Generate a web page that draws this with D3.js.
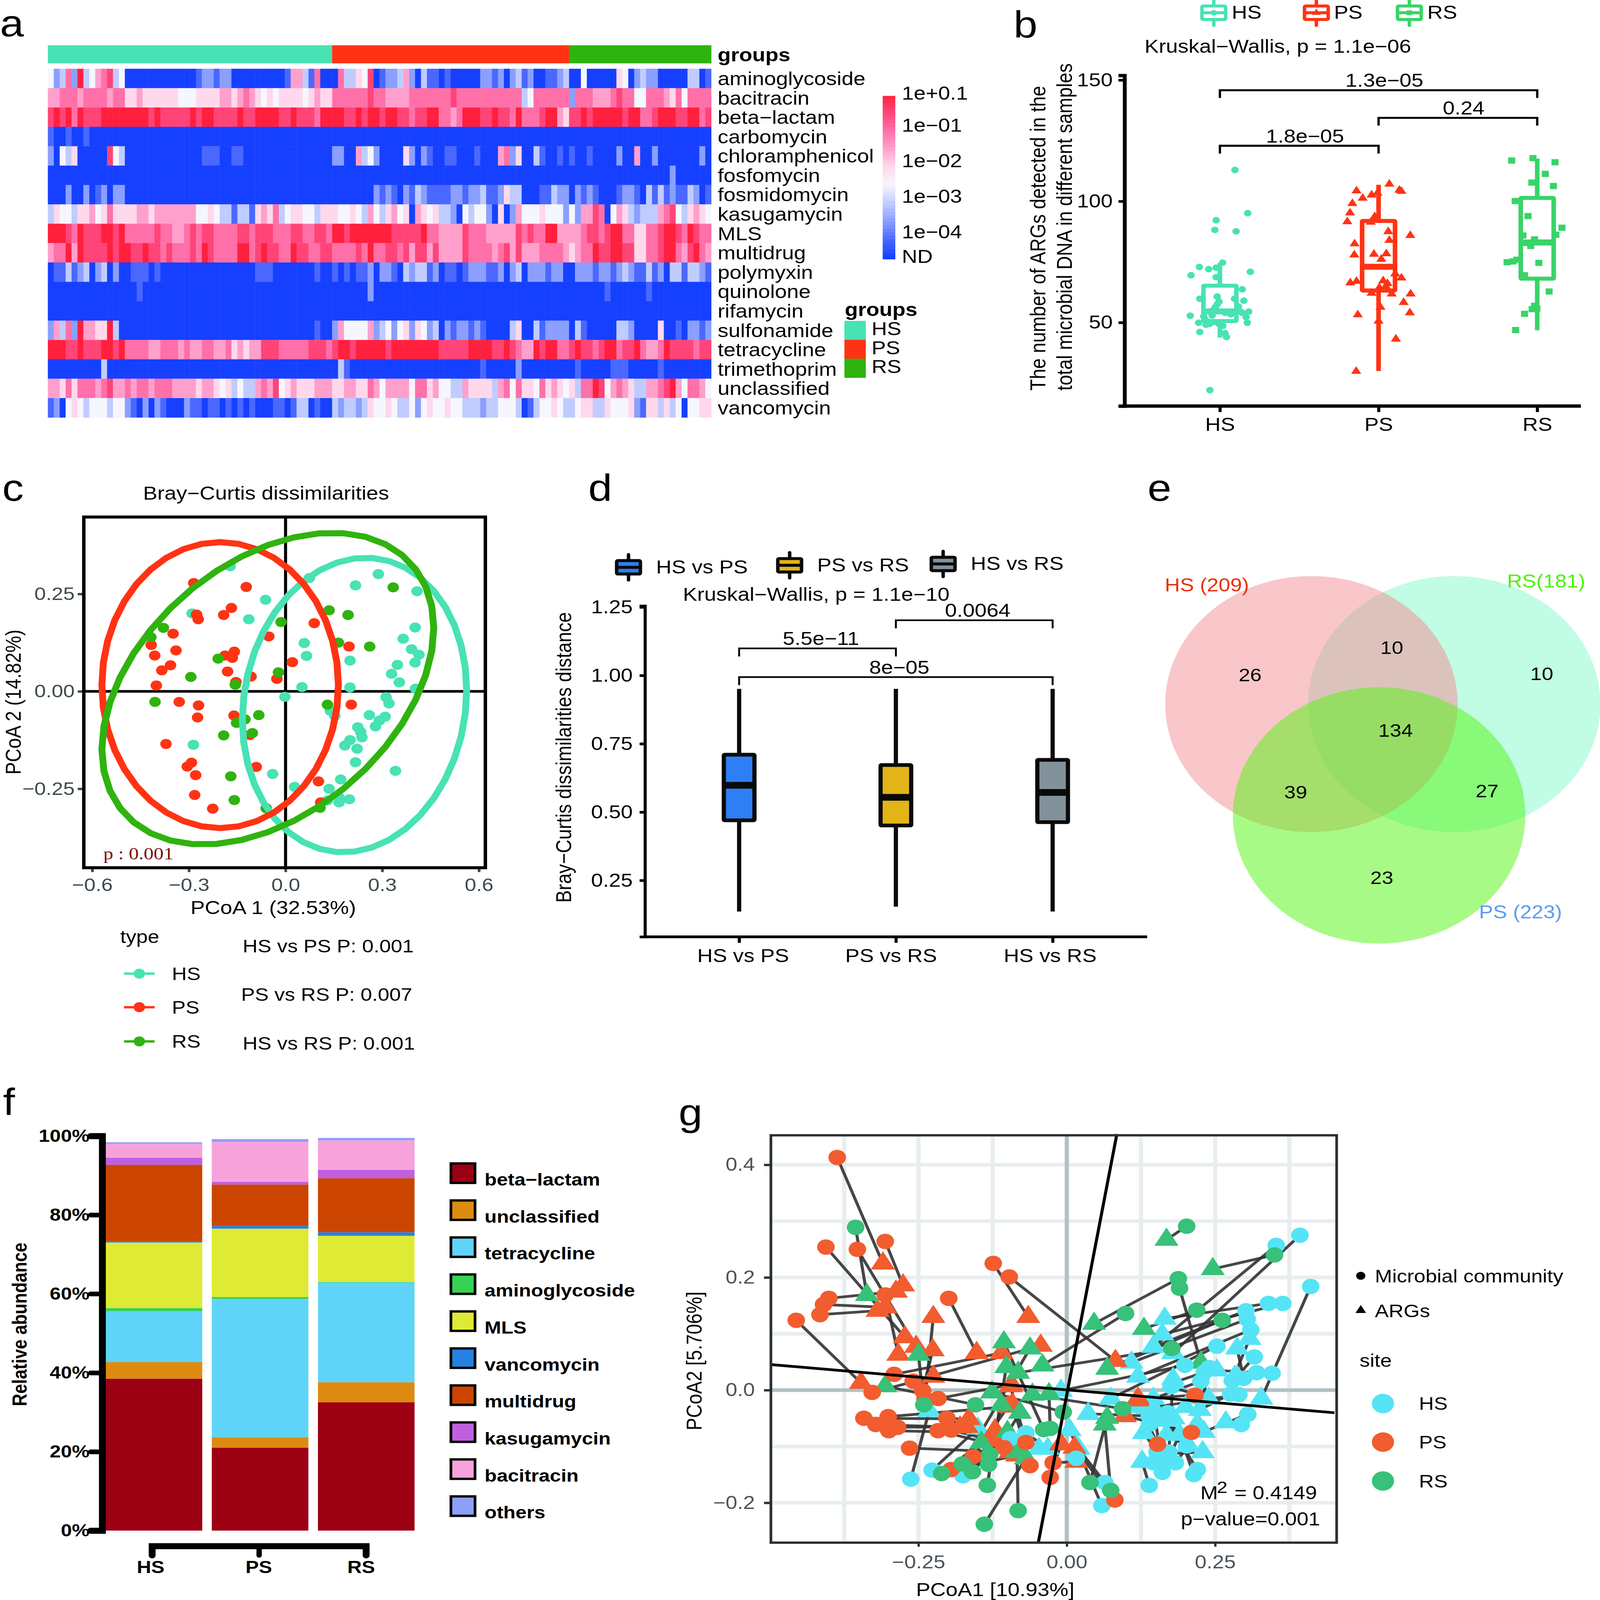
<!DOCTYPE html>
<html>
<head>
<meta charset="utf-8">
<script src="https://cdn.jsdelivr.net/npm/d3@7"></script>
<style>
html, body { margin: 0; padding: 0; background: #fff; overflow: hidden; width: 100%; height: 100%; }
svg { display: block; width: 100vw; height: 100vh; }
text { font-family: "Liberation Sans", Arial, sans-serif; fill: #000; }
</style>
</head>
<body>
<div id="chart"></div>
<script>
// a: heatmap, every digit is one sample (0 = ND ... 9 = strongest)
var argClasses = ["aminoglycoside", "bacitracin", "beta\u2212lactam", "carbomycin", "chloramphenicol", "fosfomycin", "fosmidomycin", "kasugamycin", "MLS", "multidrug", "polymyxin", "quinolone", "rifamycin", "sulfonamide", "tetracycline", "trimethoprim", "unclassified", "vancomycin"];
var heatHS = [
    "4237293467 8340000000 0000012212 2000000000 16631700",
    "6677767777 6775565555 5544455556 6567654545 55545655",
    "8989798889 9999999898 8888989988 8898899998 89888799",
    "1001001000 0000000000 0000000000 0000000000 00000000",
    "2043500000 8430000000 0000001110 0110000000 00000000",
    "0000000000 0000000000 0000000000 0000000000 00000000",
    "0002002012 0220000000 0000000000 0000000000 00000000",
    "3544355645 7555566566 6666644543 3133156573 45544355",
    "9998798889 9897777787 7667878877 7788788877 78877887",
    "6779698888 9899889887 8777879877 7799789887 79887788",
    "0113123023 0200111010 0000000000 0000011100 00000100",
    "0000000000 0000010000 0000000000 0000000000 00000000",
    "0000000000 0000000000 0000000000 0000000000 00000000",
    "2637296655 9300000000 0000000000 0000000000 00000100",
    "9998898889 9897777667 7767667766 7565668887 77778887",
    "0000000003 0000000000 0000000000 0000000000 00000000",
    "6657577767 8667677677 7666656654 5343367684 56555666",
    "1204543444 3442102021 0002110110 1010100011 01330100"
];
var heatPS = [
    "0733548012 2362031101 0000022120 2312001123",
    "7777778776 6667777777 8777777777 7734777777",
    "9988989989 9887889977 6799988988 7977789965",
    "0000000000 0000000000 0000000000 0000000000",
    "2200634200 0052021001 1000100067 2500310010",
    "0000000000 0000000000 0000000000 0000000000",
    "0000000212 1021321111 2212231125 3300011322",
    "5445436435 6450654533 2043442050 2644454442",
    "9989999999 8888897766 6687776666 6878779966",
    "7777879778 8786886866 6687777678 6866677776",
    "1010112022 1032331201 1012221120 2302221220",
    "0000002000 0000000000 0000000000 0000000000",
    "0000000000 0000000000 0000000000 0000000000",
    "2644446234 2452542302 1221210000 3500312222",
    "8998999998 9999999988 8889999889 8766989977",
    "0310000000 0000000000 0000010000 0200000000",
    "5566557646 6664775644 3365555367 4755475654",
    "3233235445 4334245445 4433323344 4301344543"
];
var heatRS = [
    "0040000054 0232200000 3301",
    "2777666787 7447776574 7777",
    "8898999998 9977899988 9978",
    "0000000000 0000000000 0000",
    "1001000020 0600200000 0020",
    "0000000000 0000000200 0000",
    "0212100012 2103131211 3201",
    "4266870465 3233367843 5654",
    "6678878997 7557789987 9877",
    "5677988998 8557789976 8976",
    "0222122123 2113120331 3321",
    "0000001000 0001000000 0000",
    "0000000000 0000000000 0000",
    "0310000033 2000050010 2212",
    "8988789978 8976679888 8788",
    "0100000111 0000010000 0000",
    "5377984676 5336678964 7764",
    "3455335444 5215535340 4455"
];
var heatTicks = ["1e+0.1", "1e\u221201", "1e\u221202", "1e\u221203", "1e\u221204", "ND"];
var groups = ["HS", "PS", "RS"];

// b: number of ARGs, [jitter in category widths, count]
var argsHS = [[.095,112.9],[.175,95.1],[-.024,92.2],[-.032,88.2],[.102,87.6],[.017,74.7],[-.129,72.9],[-.071,72],[-.024,72.6],[.192,70.9],[-.182,69.5],[-.024,68.7],[.141,63.7],[.092,59.8],[-.127,59.8],[-.017,60.7],[.151,59],[-.005,58.6],[-.017,57.5],[-.029,56.3],[.117,56.6],[-.041,55.2],[-.187,52.8],[-.102,52.5],[-.049,52.9],[.032,54],[.182,54.5],[.134,54.4],[.165,52.2],[-.134,49.9],[.173,49.9],[-.088,49.1],[-.054,50],[-.017,50],[.019,48.6],[-.127,46.1],[.032,45.6],[.041,44],[-.063,22.1],[-.09,51.1],[.068,53.4],[-.005,49.4],[-.066,49.4],[.141,54]];
var argsPS = [[.068,107.1],[-.139,104.3],[.131,104.6],[.144,104.1],[-.044,102.6],[-.007,103.4],[-.1,101.3],[-.165,99.1],[-.18,95.2],[-.024,93.7],[-.197,91.6],[-.049,91.4],[.061,87.5],[.2,85.9],[.068,83.9],[-.151,82.5],[-.153,77.9],[-.029,78.2],[.049,78.4],[.017,76.1],[.105,70.1],[.144,68.4],[-.139,67],[-.178,66.4],[.029,67.2],[.056,66.1],[.046,64.9],[.005,64.4],[-.044,62.1],[.083,61.8],[.202,61.8],[.158,58.3],[.012,56.3],[-.131,53.2],[.197,54],[0,50.6],[.109,43.2],[-.141,29.9]];
var argsRS = [[-.161,116.8],[-.027,117.8],[.112,116.1],[.051,111.3],[-.034,107.7],[.102,106.3],[-.139,100.1],[-.058,93.9],[.156,89.1],[.117,86.2],[-.09,85.9],[-.017,84.3],[-.073,82.8],[-.041,81.6],[-.19,74.9],[-.153,75.2],[-.129,75.9],[.01,74.6],[-.08,69.5],[.075,62.8],[-.017,56.9],[-.002,55.7],[-.032,55.5],[-.08,53.6],[-.136,46.9]];
// [whisker low, q1, median, q3, whisker high]
var argsBoxes = [[43.8,50.6,54.6,65.2,74.6],[30,63.2,73,91.9,106.8],[46.8,68.1,83,101.4,117.6]];
var argsBrackets = [["HS","RS",145.8,"1.3e\u221205"],["PS","RS",134.4,"0.24"],["HS","PS",122.9,"1.8e\u221205"]];

// c: PCoA samples [PCoA1, PCoA2]
var pcoaHS = [[-.172,.321],[.074,.291],[.288,.301],[.217,.272],[.408,.257],[-.062,.235],[-.29,.2],[-.114,.185],[.402,.164],[.365,.135],[.058,.124],[.391,.108],[.414,.094],[.065,.091],[.2,.079],[.402,.074],[.347,.068],[.329,.045],[.353,.023],[.051,.011],[.2,.01],[.403,.007],[-.002,-.014],[.312,-.015],[.321,-.031],[.139,-.05],[.153,-.063],[.26,-.061],[.309,-.065],[.291,-.075],[.279,-.09],[.224,-.092],[.233,-.104],[.237,-.118],[.2,-.125],[.184,-.139],[.222,-.147],[-.286,-.137],[.217,-.182],[.341,-.204],[-.04,-.212],[.171,-.226],[.028,-.245],[.135,-.25],[.13,-.28],[.166,-.272],[.166,-.285],[.198,-.277]];
var pcoaPS = [[-.285,.278],[-.122,.268],[-.168,.214],[-.192,.196],[-.276,.197],[-.271,.185],[.089,.175],[-.349,.148],[-.052,.141],[-.417,.119],[.197,.115],[-.34,.105],[-.159,.102],[-.406,.092],[-.188,.092],[-.165,.086],[.021,.075],[-.357,.067],[-.384,.054],[-.18,.051],[-.107,.038],[-.027,.032],[-.154,.024],[-.401,.015],[-.33,-.027],[-.27,-.036],[.204,-.034],[-.16,-.062],[-.273,-.067],[-.111,-.112],[-.371,-.135],[-.091,-.194],[-.292,-.183],[-.305,-.193],[-.279,-.215],[.102,-.231],[-.282,-.266],[-.226,-.301],[.109,-.285]];
var pcoaRS = [[.334,.267],[.135,.208],[.194,.196],[-.014,.178],[-.379,.163],[-.418,.139],[.164,.125],[.261,.115],[-.209,.084],[-.022,.049],[-.294,.037],[-.156,.017],[-.405,-.027],[.13,-.034],[-.083,-.061],[-.126,-.072],[-.152,-.081],[-.103,-.107],[-.192,-.113],[-.17,-.218],[-.159,-.279],[-.06,-.3],[.107,-.299]];
// [centre x, centre y, half width, half height, correlation]
var ellipseHS = [.214,-.035,.348,.378,.1];
var ellipsePS = [-.203,.016,.367,.367,0];
var ellipseRS = [-.055,.007,.515,.4,.39];
var pcoaTests = ["HS vs PS P: 0.001", "PS vs RS P: 0.007", "HS vs RS P: 0.001"];

// d: Bray-Curtis distance boxes
var compareNames = ["HS vs PS", "PS vs RS", "HS vs RS"];
var compareBoxes = [[.136,.47,.598,.71,.951],[.154,.451,.554,.672,.951],[.136,.463,.572,.691,.951]];
var compareBrackets = [["HS vs PS","PS vs RS",1.099,"5.5e\u221211"],["PS vs RS","HS vs RS",1.202,"0.0064"],["HS vs PS","HS vs RS",.994,"8e\u221205"]];

// e: venn counts
var vennCounts = ["26", "10", "10", "134", "39", "27", "23"];

// f: stacked relative abundance, same order as abundanceNames
var abundanceNames = ["beta\u2212lactam", "unclassified", "tetracycline", "aminoglycoside", "MLS", "vancomycin", "multidrug", "kasugamycin", "bacitracin", "others"];
var abundanceHS = [38.5,4.2,12.9,.8,16.6,.3,19.4,1.8,3.5,.4];
var abundancePS = [21,2.6,35.1,.5,17.3,.7,10.5,.7,10.1,.7];
var abundanceRS = [32.5,5.1,25.3,.1,11.7,.9,13.7,2.1,7.5,.6];

// g: procrustes pairs [circle x, circle y, triangle x, triangle y]
var procPS = [[-.387,.413,-.31,.225],[-.406,.254,-.273,.094],[-.353,.25,-.254,.077],[-.306,.264,-.276,.186],[-.401,.163,-.288,.175],[-.41,.152,-.306,.147],[-.416,.134,-.319,.141],[-.456,.124,-.347,.013],[-.306,.169,-.284,.063],[-.124,.225,-.065,.13],[-.097,.201,.082,.052],[-.199,.163,-.152,.066],[-.291,.028,-.11,.066],[-.259,.016,-.044,.079],[-.243,-.001,-.226,.071],[-.328,-.004,-.225,.024],[-.217,-.015,-.093,.01],[-.239,-.015,-.225,.13],[-.342,-.05,-.165,-.051],[-.301,-.047,-.095,-.029],[-.322,-.061,-.18,-.066],[-.3,-.072,-.121,-.076],[-.285,-.066,-.169,-.065],[-.217,-.072,-.084,-.107],[-.202,-.05,-.121,-.09],[-.195,-.071,-.099,-.096],[-.265,-.103,-.095,-.11],[-.158,-.118,-.099,-.029],[-.195,-.141,-.084,-.116],[-.062,-.134,-.091,-.026],[-.023,-.129,.016,-.127],[-.028,-.155,-.01,-.096],[.081,-.195,.013,-.102],[.216,-.009,.12,-.015],[.21,-.075,.098,-.046],[.153,-.096,.119,-.018],[-.069,-.093,-.095,.007],[-.106,-.102,-.121,-.071]];
var procRS = [[-.356,.289,-.337,.169],[.202,.291,.168,.267],[.188,.198,.046,.118],[.19,.181,.226,.049],[.099,.136,-.041,.044],[.219,.142,.13,.109],[.262,.124,.068,.038],[.35,.24,.246,.215],[.177,.074,-.082,.031],[-.241,-.026,-.25,.063],[-.154,-.026,-.306,.007],[-.006,-.039,-.126,-.004],[.094,-.033,-.058,-.008],[-.039,-.07,-.106,.085],[-.028,-.068,-.03,-.007],[-.13,-.114,-.11,-.026],[-.176,-.131,-.062,.074],[-.132,-.132,-.079,-.04],[-.211,-.148,-.144,-.093],[-.159,-.145,-.1,-.074],[-.134,-.169,-.102,.041],[-.082,-.214,-.084,-.11],[-.139,-.238,-.069,-.121],[.039,-.164,.068,-.049],[.074,-.178,.064,-.061]];
var procHS = [[.393,.275,.179,.066],[.353,.257,.146,.077],[.411,.184,.328,-.015],[.34,.154,.165,.127],[.364,.154,.161,.099],[.302,.141,.146,.077],[.304,.126,.109,.049],[.31,.107,.12,.024],[.253,.078,.074,-.015],[.316,.059,.287,.024],[.199,.044,-.01,-.001],[.32,.031,.253,.035],[.346,.03,.283,.024],[.232,.032,.179,.013],[.298,.021,.287,.074],[.279,.017,.308,.091],[.226,.016,.146,-.015],[.176,.006,.239,-.015],[.276,-.007,.224,-.035],[.29,-.008,.135,-.032],[.218,-.012,.168,-.054],[.305,-.043,.231,-.074],[.294,-.061,.268,-.057],[.139,-.046,.036,-.042],[.165,-.049,.19,-.079],[.202,-.099,.168,-.079],[.152,-.11,.13,-.076],[.168,-.113,.229,-.11],[.183,-.129,.205,-.099],[.146,-.129,.127,-.127],[.161,-.146,.19,-.079],[.22,-.141,.168,-.054],[.214,-.15,.19,-.079],[.139,-.169,.127,-.127],[.064,-.164,.016,-.099],[.059,-.205,.005,-.071],[.016,-.121,.02,-.104],[-.069,-.076,-.032,-.104],[-.095,-.086,-.047,-.104],[-.227,-.142,-.15,-.068],[-.263,-.158,-.232,-.037],[-.175,-.152,-.121,-.082],[.172,-.11,.179,.02],[.161,-.128,.145,-.03],[.14,-.06,.2,-.03],[.17,-.04,.18,-.05],[.155,-.05,.11,-.03],[.24,.04,.22,-.06]];
// the two rotation axes through the origin
var procAxes = [[[.0844,.4547],[-.048,-.2707]],[[-.497,.0452],[.451,-.0402]]];

var teal = "#48e2b4", red = "#ff3314", leaf = "#2fb30f";
var heatColor = d3.scaleLinear()
    .domain([0, 1, 2, 3, 4, 5, 6, 7, 8, 9])
    .range(["#1640ff", "#4a68ff", "#8a9fff", "#c0ccff", "#f6f6ff", "#ffd8ec", "#ffa0cc", "#ff70a8", "#ff4478", "#ff203e"]);

var svg = d3.select("#chart").append("svg")
    .attr("viewBox", "0 0 4180 4772")
    .attr("preserveAspectRatio", "none");

svg.append("rect").attr("width", 4180).attr("height", 4772).attr("fill", "#fff");

function txt(x, y, s, size, anchor, color, weight) {
    return svg.append("text")
        .attr("x", x)
        .attr("y", y)
        .attr("font-size", size || 56)
        .attr("text-anchor", anchor || "start")
        .attr("font-weight", weight || "normal")
        .style("fill", color || "#000")
        .text(s);
}

function vtxt(x, y, s, size, anchor, weight) {
    return txt(x, y, s, size, anchor, "#000", weight).attr("transform", "rotate(-90," + x + "," + y + ")");
}

function line(x1, y1, x2, y2, color, w) {
    return svg.append("line")
        .attr("x1", x1).attr("y1", y1)
        .attr("x2", x2).attr("y2", y2)
        .attr("stroke", color)
        .attr("stroke-width", w);
}

function panelLetters() {
    var letters = [["a", 0, 108], ["b", 2648, 112], ["c", 6, 1494], ["d", 1537, 1494], ["e", 2998, 1494], ["f", 8, 3325], ["g", 1773, 3356]];
    letters.forEach(function(l) {
        txt(l[1], l[2], l[0], 112);
    });
}

//draw one box with whiskers
function drawBox(cx, y, b, w, color, lw, medw, fill) {
    line(cx, y(b[0]), cx, y(b[1]), color, lw);
    line(cx, y(b[3]), cx, y(b[4]), color, lw);
    svg.append("rect")
        .attr("x", cx - w / 2)
        .attr("y", y(b[3]))
        .attr("width", w)
        .attr("height", y(b[1]) - y(b[3]))
        .attr("rx", 2)
        .attr("fill", fill || "none")
        .attr("stroke", color)
        .attr("stroke-width", lw);
    line(cx - w / 2, y(b[2]), cx + w / 2, y(b[2]), color, medw);
}

function drawBracket(x1, x2, yy, drop, label, labelX, lw) {
    svg.append("path")
        .attr("d", "M" + x1 + "," + (yy + drop) + "V" + yy + "H" + x2 + "V" + (yy + drop))
        .attr("fill", "none")
        .attr("stroke", "#000")
        .attr("stroke-width", lw);
    txt(labelX, yy - 10, label, 56, "middle");
}

function styleAxis(g, color, tickW, fontSize, labelColor) {
    g.selectAll("line").attr("stroke", color).attr("stroke-width", tickW);
    g.selectAll("text")
        .attr("font-size", fontSize)
        .style("fill", labelColor || "#000");
}

function drawHeatmap() {
    var hs = d3.scaleBand().domain(d3.range(112)).range([125, 1858]);
    var rowY = d3.scaleBand().domain(argClasses).range([205, 1245]);

    var bars = [[0, 48, teal], [48, 88, red], [88, 112, leaf]];
    bars.forEach(function(b) {
        svg.append("rect")
            .attr("x", hs(b[0]))
            .attr("y", 135)
            .attr("width", hs.step() * (b[1] - b[0]) + 0.5)
            .attr("height", 54)
            .attr("fill", b[2]);
    });

    argClasses.forEach(function(name, i) {
        var cells = (heatHS[i] + heatPS[i] + heatRS[i]).replace(/\s/g, "").split("");
        svg.selectAll(".none")
            .data(cells)
            .enter()
            .append("rect")
            .attr("x", function(d, j) { return hs(j); })
            .attr("y", rowY(name))
            .attr("width", hs.step() + 0.5)
            .attr("height", rowY.step() + 0.5)
            .attr("fill", function(d) { return heatColor(+d); });
        txt(1875, rowY(name) + rowY.step() / 2 + 20, name, 56);
    });
    txt(1875, 183, "groups", 56, "start", "#000", "bold");

    //colour key
    var keyY = d3.scaleLinear().domain([0, 9]).range([773, 286]);
    var steps = d3.range(0, 9, 9 / 48);
    svg.selectAll(".key")
        .data(steps)
        .enter()
        .append("rect")
        .attr("x", 2306)
        .attr("y", function(d) { return keyY(d + 9 / 48); })
        .attr("width", 33)
        .attr("height", (773 - 286) / 48 + 0.5)
        .attr("fill", function(d) { return heatColor(d); });
    var keySpots = [277, 373, 479, 585, 691, 764];
    heatTicks.forEach(function(t, i) {
        txt(2356, keySpots[i] + 20, t, 56);
    });

    txt(2207, 942, "groups", 56, "start", "#000", "bold");
    var groupColors = [teal, red, leaf];
    groups.forEach(function(g, i) {
        svg.append("rect")
            .attr("x", 2206)
            .attr("y", 957 + i * 56.5)
            .attr("width", 56)
            .attr("height", 57)
            .attr("fill", groupColors[i]);
        txt(2277, 1000 + i * 56.5, g, 56);
    });
}

//legend key of a boxplot
function boxKey(x, y, color, fill, mark) {
    line(x + 35, y - 14, x + 35, y + 62, color, 9).attr("stroke-linecap", "round");
    svg.append("rect")
        .attr("x", x + 4).attr("y", y + 4)
        .attr("width", 62).attr("height", 40)
        .attr("rx", 3)
        .attr("fill", fill)
        .attr("stroke", color)
        .attr("stroke-width", 9);
    line(x + 4, y + 24, x + 66, y + 24, color, 9);
    if (mark) {
        svg.append("path")
            .attr("d", d3.symbol().type(mark).size(200)())
            .attr("transform", "translate(" + (x + 35) + "," + (y + 24) + ")")
            .attr("fill", color);
    }
}

function drawArgCounts() {
    var colors = [teal, red, "#38d468"];
    var marks = [d3.symbolCircle, d3.symbolTriangle, d3.symbolSquare];
    var sizes = [300, 300, 340];
    var sets = [argsHS, argsPS, argsRS];

    var x = d3.scalePoint().domain(groups).range([3187, 4016]);
    var y = d3.scaleLinear().domain([15.56, 151.9]).range([1211, 225]);

    var yAxis = svg.append("g")
        .attr("transform", "translate(2938,0)")
        .call(d3.axisLeft(y).tickValues([50, 100, 150]).tickSizeOuter(0).tickSize(16).tickPadding(15));
    yAxis.select(".domain").attr("stroke", "#000").attr("stroke-width", 10);
    styleAxis(yAxis, "#000", 8, 56);
    var xAxis = svg.append("g")
        .attr("transform", "translate(0,1211)")
        .call(d3.axisBottom(x).tickSizeOuter(0).tickSize(18).tickPadding(16));
    xAxis.select(".domain").remove();
    styleAxis(xAxis, "#000", 8, 56);
    line(2933, 1211, 4130, 1211, "#000", 10);

    groups.forEach(function(g, i) {
        drawBox(x(g), y, argsBoxes[i], 86, colors[i], 12, 18);
        svg.selectAll(".none")
            .data(sets[i])
            .enter()
            .append("path")
            .attr("d", d3.symbol().type(marks[i]).size(sizes[i]))
            .attr("transform", function(d) {
                return "translate(" + (x(g) + d[0] * x.step()) + "," + y(d[1]) + ")";
            })
            .attr("fill", colors[i]);
    });

    argsBrackets.forEach(function(b) {
        var mid = (x(b[0]) + x(b[1])) / 2;
        drawBracket(x(b[0]), x(b[1]), y(b[2]), 23, b[3], mid + 15, 6);
    });

    var keyX = [3136, 3404, 3647], textX = [3218, 3485, 3729];
    groups.forEach(function(g, i) {
        boxKey(keyX[i], 14, colors[i], "#fff", marks[i]);
        txt(textX[i], 56, g, 56);
    });
    txt(2990, 157, "Kruskal\u2212Wallis, p = 1.1e\u221206", 56);
    vtxt(2731, 1165, "The number of ARGs detected in the", 56);
    vtxt(2800, 1165, "total microbial DNA in different samples", 56);
}

function drawPcoa() {
    var x = d3.scaleLinear().domain([-.626, .62]).range([219, 1268]);
    var y = d3.scaleLinear().domain([-.4509, .4509]).range([2586, 1538]);

    var xAxis = svg.append("g")
        .attr("transform", "translate(0,2588)")
        .call(d3.axisBottom(x).tickValues([-.6, -.3, 0, .3, .6]).tickFormat(d3.format(".1f")).tickSize(13).tickPadding(18));
    xAxis.select(".domain").remove();
    styleAxis(xAxis, "#3f4a50", 7, 54, "#3f4a50");
    var yAxis = svg.append("g")
        .attr("transform", "translate(219,0)")
        .call(d3.axisLeft(y).tickValues([-.25, 0, .25]).tickFormat(d3.format(".2f")).tickSize(16).tickPadding(8));
    yAxis.select(".domain").remove();
    styleAxis(yAxis, "#3f4a50", 7, 54, "#3f4a50");

    line(x(0), 1542, x(0), 2588, "#000", 8);
    line(219, y(0), 1268, y(0), "#000", 8);

    var sets = [pcoaHS, pcoaPS, pcoaRS];
    var colors = [teal, red, leaf];
    sets.forEach(function(s, i) {
        svg.selectAll(".none")
            .data(s)
            .enter()
            .append("circle")
            .attr("cx", function(d) { return x(d[0]); })
            .attr("cy", function(d) { return y(d[1]); })
            .attr("r", 15)
            .attr("fill", colors[i]);
    });

    [ellipseHS, ellipsePS, ellipseRS].forEach(function(e, i) {
        var phi = Math.acos(e[4]);
        var path = d3.line()
            .x(function(t) { return x(e[0] + e[2] * Math.cos(t)); })
            .y(function(t) { return y(e[1] + e[3] * Math.cos(t - phi)); })
            .curve(d3.curveLinearClosed);
        svg.append("path")
            .attr("d", path(d3.range(0, 2 * Math.PI, Math.PI / 20)))
            .attr("fill", "none")
            .attr("stroke", colors[i])
            .attr("stroke-width", 18);
    });

    svg.append("rect")
        .attr("x", 219).attr("y", 1542)
        .attr("width", 1049).attr("height", 1046)
        .attr("fill", "none")
        .attr("stroke", "#000")
        .attr("stroke-width", 9);

    txt(270, 2563, "p :  0.001", 52, "start", "#7a1010").style("font-family", "'Liberation Serif'");
    txt(695, 1490, "Bray\u2212Curtis dissimilarities", 56, "middle");
    txt(714, 2726, "PCoA 1 (32.53%)", 56, "middle");
    vtxt(54, 2094, "PCoA 2 (14.82%)", 56, "middle");

    txt(314, 2812, "type", 54);
    var keyY = [2904, 3004, 3106];
    groups.forEach(function(g, i) {
        line(324, keyY[i], 404, keyY[i], colors[i], 7);
        svg.append("circle").attr("cx", 364).attr("cy", keyY[i]).attr("r", 15).attr("fill", colors[i]);
        txt(449, keyY[i] + 19, g, 54);
    });
    var testX = [634, 630, 634], testY = [2840, 2985, 3130];
    pcoaTests.forEach(function(t, i) {
        txt(testX[i], testY[i], t, 54);
    });
}

function drawDistances() {
    var fills = ["#2e7ff5", "#e3b417", "#83919a"];
    var x = d3.scalePoint().domain(compareNames).range([1931, 2750]);
    var y = d3.scaleLinear().domain([.0436, 1.2546]).range([2794, 1807]);

    var yAxis = svg.append("g")
        .attr("transform", "translate(1685,0)")
        .call(d3.axisLeft(y).tickValues([.25, .5, .75, 1, 1.25]).tickFormat(d3.format(".2f")).tickSizeOuter(0).tickSize(14).tickPadding(18));
    yAxis.select(".domain").attr("stroke", "#000").attr("stroke-width", 8);
    styleAxis(yAxis, "#000", 8, 56);
    var xAxis = svg.append("g")
        .attr("transform", "translate(0,2794)")
        .call(d3.axisBottom(x).tickSizeOuter(0).tickSize(18).tickPadding(18));
    xAxis.select(".domain").remove();
    styleAxis(xAxis, "#000", 8, 56);
    var labelShift = [10, -13, -7];
    xAxis.selectAll("text").attr("dx", function(d, i) { return labelShift[i]; });
    line(1681, 2794, 2997, 2794, "#000", 8);

    compareNames.forEach(function(n, i) {
        drawBox(x(n), y, compareBoxes[i], 80, "#0a0a0a", 11, 20, fills[i]);
    });

    compareBrackets.forEach(function(b) {
        var mid = (x(b[0]) + x(b[1])) / 2;
        drawBracket(x(b[0]), x(b[1]), y(b[2]), 24, b[3], mid + 9, 5);
    });

    var keyX = [1607, 2028, 2429], keyY = [1668, 1662, 1658], textX = [1714, 2135, 2536];
    compareNames.forEach(function(n, i) {
        boxKey(keyX[i], keyY[i], "#0a0a0a", fills[i]);
        txt(textX[i], keyY[i] + 42, n, 56);
    });
    txt(1784, 1792, "Kruskal\u2212Wallis, p = 1.1e\u221210", 56);
    vtxt(1492, 2259, "Bray\u2212Curtis dissimilarities distance", 56, "middle");
}

function drawVenn() {
    var r = 382;
    svg.append("clipPath").attr("id", "vennClip")
        .append("circle").attr("cx", 3426).attr("cy", 2100).attr("r", r);
    svg.append("circle").attr("cx", 3426).attr("cy", 2100).attr("r", r).attr("fill", "#f9c6c9");
    svg.append("circle").attr("cx", 3799).attr("cy", 2100).attr("r", r).attr("fill", "#c1fce5");
    svg.append("circle").attr("cx", 3799).attr("cy", 2100).attr("r", r).attr("fill", "#dbc3bc").attr("clip-path", "url(#vennClip)");
    svg.append("circle").attr("cx", 3603).attr("cy", 2432).attr("r", r).attr("fill", "rgb(81,245,13)").attr("fill-opacity", .5);

    var spots = [[3266, 2013], [3636, 1931], [4028, 2009], [3646, 2178], [3385, 2362], [3885, 2359], [3610, 2618]];
    vennCounts.forEach(function(c, i) {
        txt(spots[i][0], spots[i][1] + 19, c, 54, "middle");
    });
    txt(3043, 1764, "HS (209)", 55, "start", "#e8310c");
    txt(3937, 1752, "RS(181)", 55, "start", "#4df20a");
    txt(3864, 2739, "PS (223)", 55, "start", "#5b9cf0");
}

function drawAbundance() {
    var colors = ["#9c0013", "#dd8b10", "#5fd4f8", "#36d255", "#dfea34", "#2781e0", "#cc4500", "#c060e0", "#f8a2dc", "#8ca0f8"];
    var y = d3.scaleLinear().domain([0, 100]).range([4565, 3388]);
    var x = d3.scaleBand().domain(groups).range([276, 1083]).paddingInner(.09);
    var sets = [abundanceHS, abundancePS, abundanceRS];

    groups.forEach(function(g, i) {
        var base = 0;
        sets[i].forEach(function(v, j) {
            svg.append("rect")
                .attr("x", x(g))
                .attr("y", y(base + v))
                .attr("width", x.bandwidth())
                .attr("height", y(base) - y(base + v))
                .attr("fill", colors[j]);
            base += v;
        });
    });

    var yAxis = svg.append("g")
        .attr("transform", "translate(267,0)")
        .call(d3.axisLeft(y).tickValues([0, 20, 40, 60, 80, 100]).tickFormat(function(d) { return d + "%"; }).tickSizeOuter(0).tickSize(30).tickPadding(3));
    yAxis.select(".domain").attr("stroke", "#000").attr("stroke-width", 18).attr("stroke-linecap", "round");
    styleAxis(yAxis, "#000", 14, 52);
    yAxis.selectAll("line").attr("stroke-linecap", "round");
    yAxis.selectAll("text").attr("font-weight", "bold");

    var xt = d3.scalePoint().domain(groups).range([397, 956]);
    var xAxis = svg.append("g")
        .attr("transform", "translate(0,4611)")
        .call(d3.axisBottom(xt).tickSizeOuter(0).tickSize(28).tickPadding(16));
    xAxis.select(".domain").attr("stroke", "#000").attr("stroke-width", 18).attr("stroke-linecap", "round");
    styleAxis(xAxis, "#000", 14, 52);
    xAxis.selectAll("line").attr("stroke-linecap", "round");
    var labelShift = [-4, -1, -13];
    xAxis.selectAll("text").attr("font-weight", "bold").attr("dx", function(d, i) { return labelShift[i]; });

    vtxt(69, 3950, "Relative abundance", 52, "middle", "bold");

    var swatchY = d3.scalePoint().domain(abundanceNames).range([3499, 4492]);
    abundanceNames.forEach(function(n, i) {
        svg.append("rect")
            .attr("x", 1178).attr("y", swatchY(n) - 29)
            .attr("width", 63).attr("height", 58)
            .attr("fill", colors[i])
            .attr("stroke", "#000")
            .attr("stroke-width", 7);
        txt(1266, swatchY(n) + 37, n, 52, "start", "#000", "bold");
    });
}

function drawProcrustes() {
    var colors = { HS: "#55e4f5", PS: "#f25c2f", RS: "#37c179" };
    var x = d3.scaleLinear().domain([-.4987, .4548]).range([2014, 3492]);
    var y = d3.scaleLinear().domain([-.2708, .4524]).range([4601, 3386]);

    [-.375, -.25, -.125, .125, .25, .375].forEach(function(v) {
        line(x(v), 3386, x(v), 4601, "#e8eeee", 11);
    });
    [-.2, -.1, .1, .2, .3, .4].forEach(function(v) {
        line(2014, y(v), 3492, y(v), "#e8eeee", 11);
    });
    line(x(0), 3386, x(0), 4601, "#b3c1c4", 11);
    line(2014, y(0), 3492, y(0), "#b3c1c4", 11);

    var sets = [["HS", procHS], ["PS", procPS], ["RS", procRS]];
    sets.forEach(function(s) {
        svg.selectAll(".none")
            .data(s[1])
            .enter()
            .append("line")
            .attr("x1", function(d) { return x(d[0]); })
            .attr("y1", function(d) { return y(d[1]); })
            .attr("x2", function(d) { return x(d[2]); })
            .attr("y2", function(d) { return y(d[3]); })
            .attr("stroke", "#333")
            .attr("stroke-opacity", .9)
            .attr("stroke-width", 8);
    });
    sets.forEach(function(s) {
        svg.selectAll(".none")
            .data(s[1])
            .enter()
            .append("path")
            .attr("d", d3.symbol().type(d3.symbolTriangle).size(1720))
            .attr("transform", function(d) { return "translate(" + x(d[2]) + "," + y(d[3]) + ")"; })
            .attr("fill", colors[s[0]]);
    });
    sets.forEach(function(s) {
        svg.selectAll(".none")
            .data(s[1])
            .enter()
            .append("circle")
            .attr("cx", function(d) { return x(d[0]); })
            .attr("cy", function(d) { return y(d[1]); })
            .attr("r", 23)
            .attr("fill", colors[s[0]]);
    });

    procAxes.forEach(function(a) {
        line(x(a[0][0]), y(a[0][1]), x(a[1][0]), y(a[1][1]), "#000", 8);
    });

    svg.append("rect")
        .attr("x", 2014).attr("y", 3386)
        .attr("width", 1478).attr("height", 1215)
        .attr("fill", "none")
        .attr("stroke", "#2a3033")
        .attr("stroke-width", 7);

    var gray = "#4a5459";
    var xAxis = svg.append("g")
        .attr("transform", "translate(0,4601)")
        .call(d3.axisBottom(x).tickValues([-.25, 0, .25]).tickFormat(d3.format(".2f")).tickSize(12).tickPadding(26));
    xAxis.select(".domain").remove();
    styleAxis(xAxis, "#2a3033", 6, 55, gray);
    var yAxis = svg.append("g")
        .attr("transform", "translate(2014,0)")
        .call(d3.axisLeft(y).tickValues([-.2, 0, .2, .4]).tickFormat(d3.format(".1f")).tickSize(18).tickPadding(24));
    yAxis.select(".domain").remove();
    styleAxis(yAxis, "#2a3033", 7, 55, gray);

    txt(2600, 4760, "PCoA1 [10.93%]", 56, "middle");
    vtxt(1833, 4059, "PCoA2 [5.706%]", 56, "middle");

    txt(3136, 4471, "M", 55);
    txt(3179, 4453, "2", 50);
    txt(3225, 4471, "= 0.4149", 55);
    txt(3085, 4549, "p\u2212value=0.001", 55);

    svg.append("circle").attr("cx", 3555).attr("cy", 3805).attr("r", 12).attr("fill", "#000");
    txt(3592, 3825, "Microbial community", 54);
    svg.append("path")
        .attr("d", d3.symbol().type(d3.symbolTriangle).size(330)())
        .attr("transform", "translate(3555,3908)")
        .attr("fill", "#000");
    txt(3592, 3928, "ARGs", 54);
    txt(3552, 4077, "site", 54);
    var keyY = [4186, 4301, 4417];
    groups.forEach(function(g, i) {
        svg.append("circle").attr("cx", 3613).attr("cy", keyY[i]).attr("r", 29).attr("fill", colors[g]);
        txt(3707, keyY[i] + 19, g, 54);
    });
}

panelLetters();
drawHeatmap();
drawArgCounts();
drawPcoa();
drawDistances();
drawVenn();
drawAbundance();
drawProcrustes();
</script>
</body>
</html>
